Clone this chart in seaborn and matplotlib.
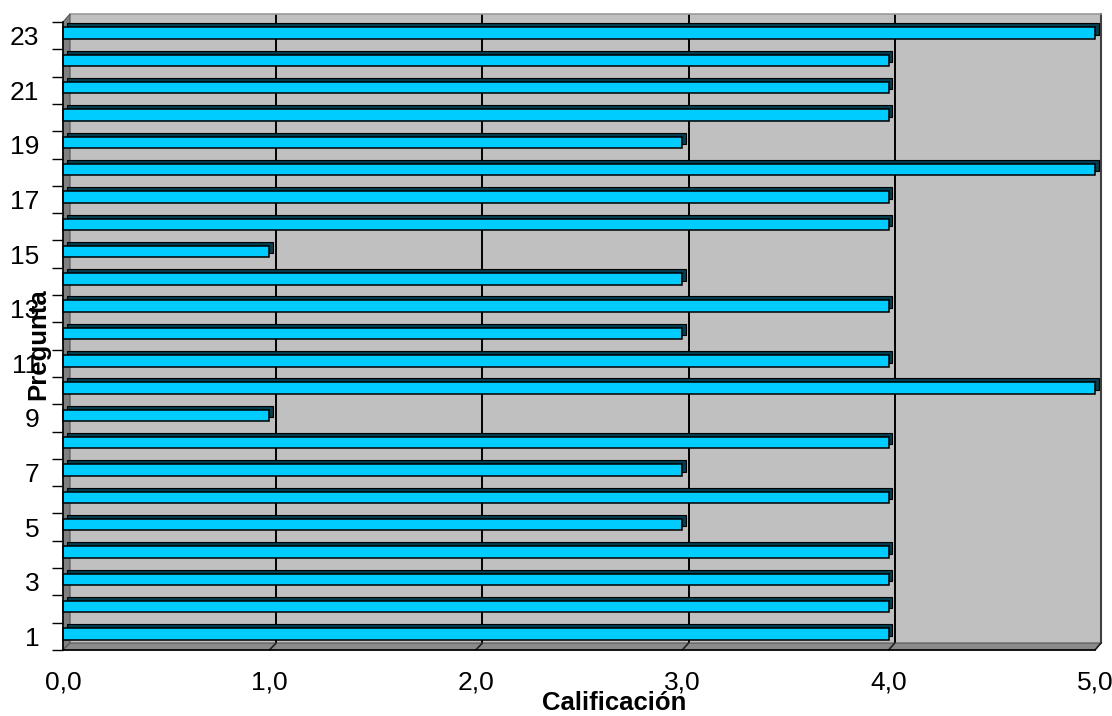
import matplotlib
matplotlib.use("Agg")
import matplotlib.pyplot as plt
import matplotlib.transforms as mtransforms
from matplotlib.patches import Polygon
from matplotlib.lines import Line2D
import seaborn as sns
import pandas as pd
import numpy as np

# ---- data ----
preguntas = [str(i) for i in range(1, 24)]
calificacion = [4, 4, 4, 4, 3, 4, 3, 4, 1, 5, 4, 3, 4, 3, 1, 4, 4, 5, 3, 4, 4, 4, 5]
x_ticks = [0, 1, 2, 3, 4, 5]
x_tick_labels = ["0,0", "1,0", "2,0", "3,0", "4,0", "5,0"]

sns.set_style("white")
plt.rcParams["font.family"] = ["Liberation Sans", "DejaVu Sans"]
plt.rcParams["text.color"] = "black"
plt.rcParams["xtick.color"] = "black"
plt.rcParams["ytick.color"] = "black"
plt.rcParams["xtick.labelcolor"] = "black"
plt.rcParams["ytick.labelcolor"] = "black"

W, H = 1112, 716
fig = plt.figure(figsize=(W / 100, H / 100), dpi=100)
fig.patch.set_facecolor("white")


def px(l, t, r, b):
    return [l / W, 1 - b / H, (r - l) / W, (b - t) / H]


def fp(x, y):
    return (x / W, 1 - y / H)


# front plane and back wall geometry (pixels)
FL, FT, FR, FB = 63, 22, 1095, 650
BL, BT, BR, BB = 70, 14, 1101, 643

# back wall
ax_bg = fig.add_axes(px(BL, BT, BR, BB))
ax_bg.set_zorder(0)
ax_bg.set_facecolor("#C0C0C0")
ax_bg.set_xlim(0, 5)
ax_bg.set_ylim(0, 1)
for k in x_ticks[1:-1]:
    ax_bg.axvline(k, color="black", lw=1.4)
ax_bg.set_xticks([])
ax_bg.set_yticks([])
for s in ["left", "bottom"]:
    ax_bg.spines[s].set_visible(False)
ax_bg.spines["top"].set_color("#9A9A9A")
ax_bg.spines["top"].set_linewidth(1.2)
ax_bg.spines["right"].set_color("#404040")
ax_bg.spines["right"].set_linewidth(1.5)

# side wall and floor
side = Polygon([fp(FL, FT), fp(BL, BT), fp(BL, BB), fp(FL, FB)], closed=True,
               transform=fig.transFigure, facecolor="#808080", edgecolor="#555555",
               lw=0.8, zorder=1)
floor = Polygon([fp(FL, FB), fp(BL, BB), fp(BR, BB), fp(FR, FB)], closed=True,
                transform=fig.transFigure, facecolor="#8A8A8A", edgecolor="#555555",
                lw=0.8, zorder=1)
fig.patches.extend([side, floor])
for k in x_ticks[1:]:
    xb = BL + (BR - BL) * k / 5
    xf = FL + (FR - FL) * k / 5
    fig.lines.append(Line2D([xb / W, xf / W], [1 - BB / H, 1 - FB / H],
                            transform=fig.transFigure, color="#222222", lw=1.2, zorder=1.5))

# main (front) axes
ax = fig.add_axes(px(FL, FT, FR, FB))
ax.set_zorder(2)
ax.set_facecolor("none")

df = pd.DataFrame({"Pregunta": preguntas, "Calificación": calificacion})
order = preguntas[::-1]

# depth face (dark top / end cap)
sns.barplot(data=df, x="Calificación", y="Pregunta", order=order, orient="h",
            color="#003E50", saturation=1, width=0.42, edgecolor="black",
            linewidth=0.8, ax=ax, errorbar=None)
n_shadow = len(ax.patches)

# front face
sns.barplot(data=df, x="Calificación", y="Pregunta", order=order, orient="h",
            color="#00CCFF", saturation=1, width=0.42, edgecolor="black",
            linewidth=1.1, ax=ax, errorbar=None)

ax.set_xlim(0, 5)
ax.set_ylim(len(order) - 0.5, -0.5)

off_shadow = mtransforms.ScaledTranslation(3.5 / 100, 6.5 / 100, fig.dpi_scale_trans)
off_front = mtransforms.ScaledTranslation(0, 2.5 / 100, fig.dpi_scale_trans)
for i, p in enumerate(ax.patches):
    p.set_transform(ax.transData + (off_shadow if i < n_shadow else off_front))
    p.set_clip_on(False)

ax.set_xticks(x_ticks, labels=x_tick_labels)
ax.tick_params(axis="x", which="major", direction="out", length=7, width=1,
               color="black", labelcolor="black", labelsize=19, pad=8)

ax.set_yticks(np.arange(-0.5, len(order), 1.0), labels=[""] * (len(order) + 1))
ax.set_yticks(np.arange(len(order)),
              labels=[p if int(p) % 2 == 1 else "" for p in order], minor=True)
ax.tick_params(axis="y", which="major", direction="out", length=8, width=1,
               color="black", left=True)
ax.tick_params(axis="y", which="minor", length=0, labelsize=19, labelcolor="black", pad=17)

ax.set_xlabel("")
ax.set_ylabel("")
for s in ["top", "right"]:
    ax.spines[s].set_visible(False)
for s in ["left", "bottom"]:
    ax.spines[s].set_color("black")
    ax.spines[s].set_linewidth(1.2)

fig.text(614 / W, 1 - 703 / H, "Calificación", ha="center", va="center",
         fontsize=18.5, fontweight="bold", color="black")
fig.text(38 / W, 1 - 344 / H, "Pregunta", ha="center", va="center",
         rotation=90, fontsize=18.5, fontweight="bold", color="black")

fig.savefig("out.png", dpi=100)
